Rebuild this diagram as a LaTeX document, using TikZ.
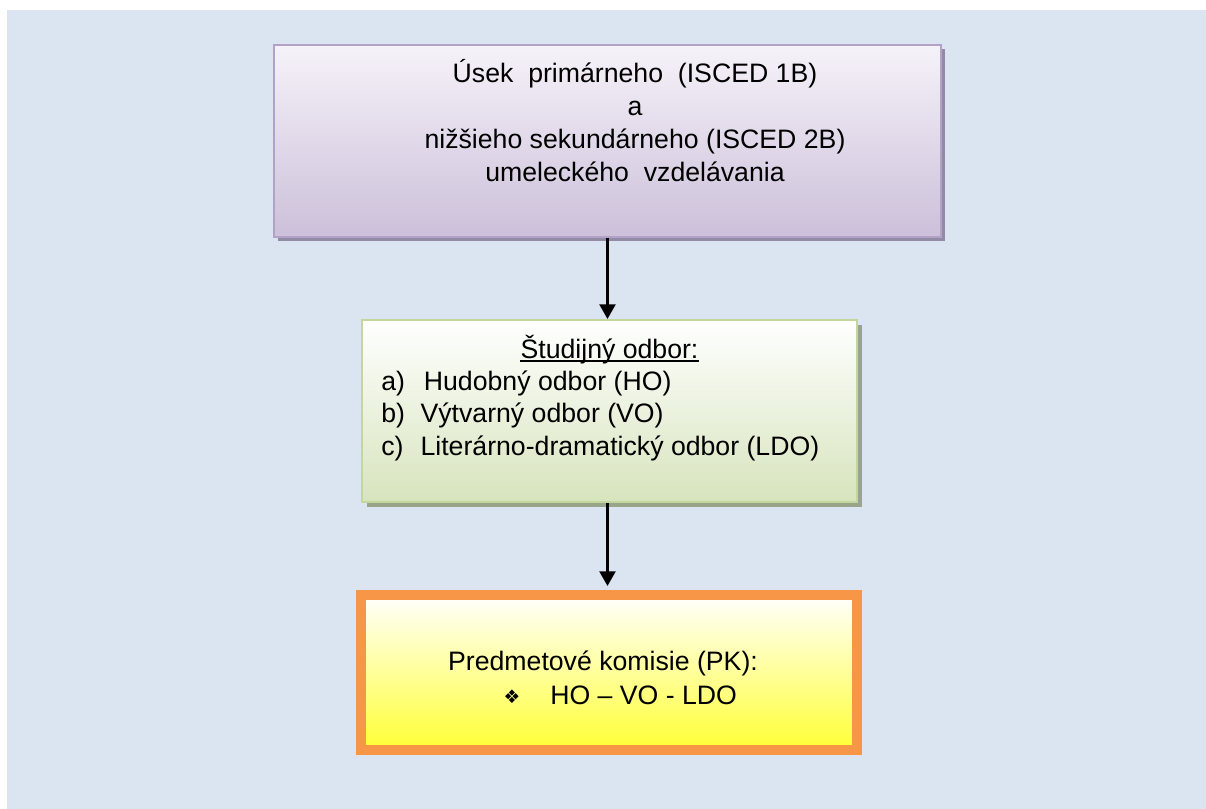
\documentclass[tikz,border=0pt]{standalone}
\usepackage{fontspec}
\setmainfont{Liberation Sans}
\newfontfamily\symfont{DejaVu Sans}
\usetikzlibrary{arrows.meta,shadows}
\definecolor{bgblue}{HTML}{DBE5F1}
\definecolor{purpleline}{HTML}{B3A2C7}
\definecolor{purpletop}{HTML}{F6F2F9}
\definecolor{purplebot}{HTML}{CCC0DA}
\definecolor{purpleshadow}{HTML}{938BA6}
\definecolor{greenline}{HTML}{C3D69B}
\definecolor{greentop}{HTML}{FFFFFF}
\definecolor{greenbot}{HTML}{D7E4BD}
\definecolor{greenshadow}{HTML}{9AA48A}
\definecolor{orangeline}{HTML}{F79646}
\definecolor{yellowbot}{HTML}{FFFF33}
\tikzset{
  boxtop/.style={draw=purpleline, line width=1.5pt, top color=purpletop, bottom color=purplebot,
    general shadow={fill=purpleshadow, shadow xshift=3pt, shadow yshift=-3pt}},
  boxmid/.style={draw=greenline, line width=1.5pt, top color=greentop, bottom color=greenbot,
    general shadow={fill=greenshadow, shadow xshift=3.5pt, shadow yshift=-3.5pt}},
  boxpk/.style={draw=orangeline, line width=6pt, top color=white, bottom color=yellowbot},
  txt/.style={inner sep=0pt, font=\fontsize{20pt}{24pt}\selectfont},
  arr/.style={line width=1.8pt, -{Triangle[length=11pt,width=12pt]}}
}
\begin{document}
\begin{tikzpicture}[x=0.75pt,y=-0.75pt]
\useasboundingbox (0,0) rectangle (1206,809);
\fill[bgblue] (7,10) rectangle (1206,809);

% boxes
\node[boxtop, minimum width=500.25pt, minimum height=144pt] (top) at (607.5,141) {};
\node[boxmid, minimum width=371.25pt, minimum height=136.5pt] (mid) at (609.5,411) {};
\node[boxpk, minimum width=373.5pt, minimum height=117.75pt] (pk) at (609,672.5) {};
\draw[orangeline, line width=1.9pt] ([xshift=6.2pt,yshift=-6.2pt]pk.north west) rectangle ([xshift=-6.2pt,yshift=6.2pt]pk.south east);

% top text
\node[txt, anchor=base] (t1) at (635,83) {Úsek\ \ primárneho\ \ (ISCED 1B)};
\node[txt, anchor=base] (t2) at (635,116) {a};
\node[txt, anchor=base] (t3) at (635,149) {nižšieho sekundárneho (ISCED 2B)};
\node[txt, anchor=base] (t4) at (635,182) {umeleckého\ \ vzdelávania};

% middle text
\node[txt, anchor=base] (st) at (609.5,358) {Študijný odbor:};
\draw[line width=1.1pt] ([yshift=-2.2pt]st.base west) -- ([yshift=-2.2pt]st.base east);
\node[txt, anchor=base west] (la) at (381,390) {\makebox[32pt][l]{a)}Hudobný odbor (HO)};
\node[txt, anchor=base west] (lb) at (381,422) {\makebox[29.5pt][l]{b)}Výtvarný odbor (VO)};
\node[txt, anchor=base west] (lc) at (381,455) {\makebox[29.5pt][l]{c)}Literárno-dramatický odbor (LDO)};

% bottom text
\node[txt, anchor=base] (p1) at (603,670) {Predmetové komisie (PK):};
\node[inner sep=0pt, font=\symfont\fontsize{14pt}{14pt}\selectfont] (sym) at (512,697) {❖};
\node[txt, anchor=base west] (p2) at (550,704) {HO – VO - LDO};

% arrows
\draw[arr] (top.south) -- (top.south |- mid.north);
\draw[arr, shorten >=3pt] (mid.south -| top.south) -- (top.south |- pk.north);
\end{tikzpicture}
\end{document}
